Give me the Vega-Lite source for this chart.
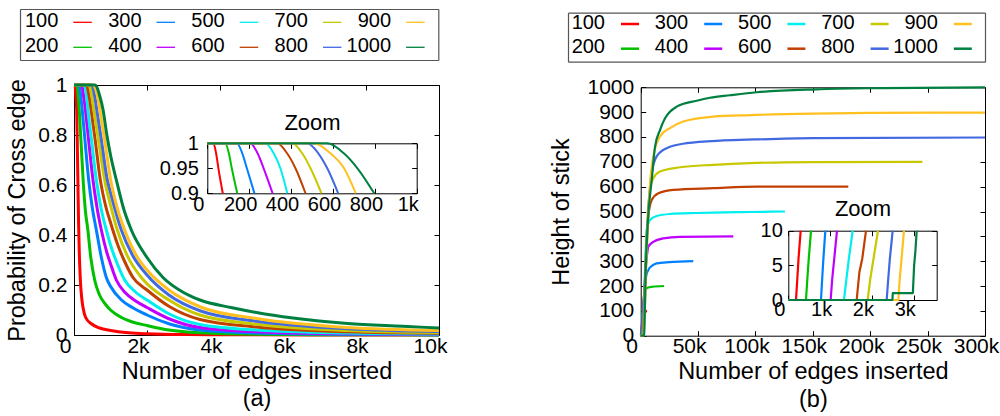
{
  "$schema": "https://vega.github.io/schema/vega-lite/v6.json",
  "width": 1000,
  "height": 416,
  "autosize": {"type": "none"},
  "padding": 0,
  "background": "white",
  "config": {
    "view": {"stroke": null},
    "font": "Liberation Sans",
    "axis": {
      "grid": false,
      "domainColor": "black",
      "domainWidth": 1,
      "tickColor": "black",
      "tickWidth": 1,
      "tickSize": -5,
      "labelColor": "black",
      "labelFont": "Liberation Sans",
      "labelFontSize": 21,
      "labelFlush": false,
      "labelOverlap": false,
      "labelBound": false,
      "titleColor": "black",
      "titleFont": "Liberation Sans",
      "titleFontSize": 23.5,
      "titleFontWeight": "normal"
    },
    "line": {"interpolate": "monotone", "strokeJoin": "round"}
  },
  "datasets": {
    "crossEdge": [
      {"s":100,"x":0,"p":1},{"s":100,"x":29,"p":1},{"s":100,"x":53,"p":0.95},{"s":100,"x":74,"p":0.9},{"s":100,"x":92,"p":0.75},{"s":100,"x":108,"p":0.6},{"s":100,"x":125,"p":0.45},{"s":100,"x":145,"p":0.33},{"s":100,"x":174,"p":0.22},{"s":100,"x":210,"p":0.15},{"s":100,"x":247,"p":0.11},{"s":100,"x":320,"p":0.07},{"s":100,"x":475,"p":0.045},{"s":100,"x":700,"p":0.028},{"s":100,"x":1000,"p":0.018},{"s":100,"x":1500,"p":0.009},{"s":100,"x":2000,"p":0.005},{"s":100,"x":3000,"p":0.002},{"s":100,"x":5000,"p":0.001},{"s":100,"x":7500,"p":0},{"s":100,"x":10000,"p":0},
      {"s":200,"x":0,"p":1},{"s":200,"x":85,"p":1},{"s":200,"x":117,"p":0.95},{"s":200,"x":143,"p":0.9},{"s":200,"x":190,"p":0.78},{"s":200,"x":250,"p":0.62},{"s":200,"x":310,"p":0.5},{"s":200,"x":380,"p":0.42},{"s":200,"x":460,"p":0.31},{"s":200,"x":566,"p":0.22},{"s":200,"x":700,"p":0.16},{"s":200,"x":850,"p":0.125},{"s":200,"x":1000,"p":0.1},{"s":200,"x":1300,"p":0.07},{"s":200,"x":1600,"p":0.052},{"s":200,"x":2000,"p":0.038},{"s":200,"x":2600,"p":0.02},{"s":200,"x":3450,"p":0.009},{"s":200,"x":5000,"p":0.003},{"s":200,"x":7500,"p":0.001},{"s":200,"x":10000,"p":0.0005},
      {"s":300,"x":0,"p":1},{"s":300,"x":141,"p":1},{"s":300,"x":189,"p":0.95},{"s":300,"x":225,"p":0.9},{"s":300,"x":300,"p":0.78},{"s":300,"x":402,"p":0.62},{"s":300,"x":500,"p":0.51},{"s":300,"x":612,"p":0.42},{"s":300,"x":750,"p":0.31},{"s":300,"x":886,"p":0.23},{"s":300,"x":1000,"p":0.195},{"s":300,"x":1300,"p":0.14},{"s":300,"x":1600,"p":0.11},{"s":300,"x":2000,"p":0.08},{"s":300,"x":2600,"p":0.045},{"s":300,"x":3450,"p":0.02},{"s":300,"x":5000,"p":0.008},{"s":300,"x":7500,"p":0.003},{"s":300,"x":10000,"p":0.0015},
      {"s":400,"x":0,"p":1},{"s":400,"x":205,"p":1},{"s":400,"x":269,"p":0.95},{"s":400,"x":312,"p":0.9},{"s":400,"x":400,"p":0.78},{"s":400,"x":520,"p":0.62},{"s":400,"x":630,"p":0.51},{"s":400,"x":749,"p":0.42},{"s":400,"x":900,"p":0.33},{"s":400,"x":1000,"p":0.285},{"s":400,"x":1160,"p":0.22},{"s":400,"x":1400,"p":0.17},{"s":400,"x":1700,"p":0.135},{"s":400,"x":2000,"p":0.11},{"s":400,"x":2600,"p":0.065},{"s":400,"x":3450,"p":0.03},{"s":400,"x":5000,"p":0.013},{"s":400,"x":7500,"p":0.005},{"s":400,"x":10000,"p":0.003},
      {"s":500,"x":0,"p":1},{"s":500,"x":277,"p":1},{"s":500,"x":349,"p":0.95},{"s":500,"x":382,"p":0.9},{"s":500,"x":480,"p":0.78},{"s":500,"x":612,"p":0.62},{"s":500,"x":750,"p":0.5},{"s":500,"x":886,"p":0.42},{"s":500,"x":1000,"p":0.36},{"s":500,"x":1200,"p":0.28},{"s":500,"x":1388,"p":0.22},{"s":500,"x":1700,"p":0.17},{"s":500,"x":2000,"p":0.14},{"s":500,"x":2600,"p":0.085},{"s":500,"x":3450,"p":0.042},{"s":500,"x":5000,"p":0.02},{"s":500,"x":7500,"p":0.008},{"s":500,"x":10000,"p":0.004},
      {"s":600,"x":0,"p":1},{"s":600,"x":333,"p":1},{"s":600,"x":421,"p":0.95},{"s":600,"x":469,"p":0.9},{"s":600,"x":580,"p":0.78},{"s":600,"x":721,"p":0.62},{"s":600,"x":860,"p":0.52},{"s":600,"x":1000,"p":0.45},{"s":600,"x":1200,"p":0.36},{"s":600,"x":1400,"p":0.29},{"s":600,"x":1616,"p":0.23},{"s":600,"x":2000,"p":0.18},{"s":600,"x":2600,"p":0.115},{"s":600,"x":3450,"p":0.062},{"s":600,"x":5000,"p":0.032},{"s":600,"x":7500,"p":0.013},{"s":600,"x":10000,"p":0.007},
      {"s":700,"x":0,"p":1},{"s":700,"x":405,"p":1},{"s":700,"x":493,"p":0.95},{"s":700,"x":545,"p":0.9},{"s":700,"x":670,"p":0.78},{"s":700,"x":840,"p":0.62},{"s":700,"x":1000,"p":0.52},{"s":700,"x":1187,"p":0.42},{"s":700,"x":1450,"p":0.32},{"s":700,"x":1845,"p":0.23},{"s":700,"x":2000,"p":0.205},{"s":700,"x":2600,"p":0.14},{"s":700,"x":3450,"p":0.08},{"s":700,"x":5000,"p":0.043},{"s":700,"x":7500,"p":0.018},{"s":700,"x":10000,"p":0.01},
      {"s":800,"x":0,"p":1},{"s":800,"x":477,"p":1},{"s":800,"x":573,"p":0.95},{"s":800,"x":625,"p":0.9},{"s":800,"x":750,"p":0.78},{"s":800,"x":913,"p":0.62},{"s":800,"x":1000,"p":0.57},{"s":800,"x":1297,"p":0.42},{"s":800,"x":1600,"p":0.32},{"s":800,"x":2000,"p":0.24},{"s":800,"x":2600,"p":0.16},{"s":800,"x":3450,"p":0.097},{"s":800,"x":5000,"p":0.055},{"s":800,"x":7500,"p":0.025},{"s":800,"x":10000,"p":0.014},
      {"s":900,"x":0,"p":1},{"s":900,"x":509,"p":1},{"s":900,"x":653,"p":0.95},{"s":900,"x":709,"p":0.9},{"s":900,"x":840,"p":0.78},{"s":900,"x":1005,"p":0.62},{"s":900,"x":1200,"p":0.5},{"s":900,"x":1388,"p":0.42},{"s":900,"x":1700,"p":0.32},{"s":900,"x":2000,"p":0.26},{"s":900,"x":2600,"p":0.18},{"s":900,"x":3450,"p":0.113},{"s":900,"x":5000,"p":0.066},{"s":900,"x":7500,"p":0.03},{"s":900,"x":10000,"p":0.018},
      {"s":1000,"x":0,"p":1},{"s":1000,"x":573,"p":1},{"s":1000,"x":717,"p":0.95},{"s":1000,"x":797,"p":0.9},{"s":1000,"x":900,"p":0.8},{"s":1000,"x":1000,"p":0.72},{"s":1000,"x":1160,"p":0.62},{"s":1000,"x":1350,"p":0.51},{"s":1000,"x":1571,"p":0.42},{"s":1000,"x":2000,"p":0.31},{"s":1000,"x":2438,"p":0.23},{"s":1000,"x":3000,"p":0.17},{"s":1000,"x":3450,"p":0.14},{"s":1000,"x":4300,"p":0.11},{"s":1000,"x":5000,"p":0.09},{"s":1000,"x":6000,"p":0.068},{"s":1000,"x":7500,"p":0.046},{"s":1000,"x":9000,"p":0.035},{"s":1000,"x":10000,"p":0.028}
    ],
    "crossEdgeZoom": [
      {"s":100,"x":0,"p":1},{"s":100,"x":29,"p":1},{"s":100,"x":42,"p":0.98},{"s":100,"x":53,"p":0.95},{"s":100,"x":74,"p":0.9},
      {"s":200,"x":0,"p":1},{"s":200,"x":85,"p":1},{"s":200,"x":103,"p":0.98},{"s":200,"x":117,"p":0.95},{"s":200,"x":143,"p":0.9},
      {"s":300,"x":0,"p":1},{"s":300,"x":141,"p":1},{"s":300,"x":167,"p":0.98},{"s":300,"x":189,"p":0.95},{"s":300,"x":225,"p":0.9},
      {"s":400,"x":0,"p":1},{"s":400,"x":205,"p":1},{"s":400,"x":240,"p":0.98},{"s":400,"x":269,"p":0.95},{"s":400,"x":312,"p":0.9},
      {"s":500,"x":0,"p":1},{"s":500,"x":277,"p":1},{"s":500,"x":317,"p":0.98},{"s":500,"x":349,"p":0.95},{"s":500,"x":382,"p":0.9},
      {"s":600,"x":0,"p":1},{"s":600,"x":333,"p":1},{"s":600,"x":381,"p":0.98},{"s":600,"x":421,"p":0.95},{"s":600,"x":469,"p":0.9},
      {"s":700,"x":0,"p":1},{"s":700,"x":405,"p":1},{"s":700,"x":453,"p":0.98},{"s":700,"x":493,"p":0.95},{"s":700,"x":545,"p":0.9},
      {"s":800,"x":0,"p":1},{"s":800,"x":477,"p":1},{"s":800,"x":530,"p":0.98},{"s":800,"x":573,"p":0.95},{"s":800,"x":625,"p":0.9},
      {"s":900,"x":0,"p":1},{"s":900,"x":509,"p":1},{"s":900,"x":588,"p":0.98},{"s":900,"x":653,"p":0.95},{"s":900,"x":709,"p":0.9},
      {"s":1000,"x":0,"p":1},{"s":1000,"x":573,"p":1},{"s":1000,"x":652,"p":0.98},{"s":1000,"x":717,"p":0.95},{"s":1000,"x":797,"p":0.9}
    ],
    "stickHeight": [
      {"s":100,"x":0,"h":0},{"s":100,"x":184,"h":0},{"s":100,"x":296,"h":10},{"s":100,"x":800,"h":35},{"s":100,"x":1800,"h":65},{"s":100,"x":3000,"h":85},{"s":100,"x":4500,"h":98},{"s":100,"x":5500,"h":100},
      {"s":200,"x":0,"h":0},{"s":200,"x":423,"h":0},{"s":200,"x":543,"h":10},{"s":200,"x":1500,"h":80},{"s":200,"x":2600,"h":145},{"s":200,"x":3750,"h":184},{"s":200,"x":6000,"h":193},{"s":200,"x":10000,"h":197},{"s":200,"x":20300,"h":200},
      {"s":300,"x":0,"h":0},{"s":300,"x":782,"h":0},{"s":300,"x":886,"h":10},{"s":300,"x":2000,"h":105},{"s":300,"x":3500,"h":195},{"s":300,"x":5000,"h":245},{"s":300,"x":6600,"h":264},{"s":300,"x":10000,"h":282},{"s":300,"x":13900,"h":291},{"s":300,"x":25000,"h":296},{"s":300,"x":45800,"h":300},
      {"s":400,"x":0,"h":0},{"s":400,"x":1013,"h":0},{"s":400,"x":1165,"h":10},{"s":400,"x":2500,"h":120},{"s":400,"x":4000,"h":250},{"s":400,"x":5500,"h":325},{"s":400,"x":6600,"h":358},{"s":400,"x":11000,"h":378},{"s":400,"x":19700,"h":392},{"s":400,"x":34200,"h":398},{"s":400,"x":80700,"h":400},
      {"s":500,"x":0,"h":0},{"s":500,"x":1332,"h":0},{"s":500,"x":1540,"h":10},{"s":500,"x":3000,"h":150},{"s":500,"x":4200,"h":330},{"s":500,"x":5200,"h":425},{"s":500,"x":8100,"h":466},{"s":500,"x":13900,"h":482},{"s":500,"x":25500,"h":490},{"s":500,"x":48800,"h":494},{"s":500,"x":95000,"h":498},{"s":500,"x":125700,"h":500},
      {"s":600,"x":0,"h":0},{"s":600,"x":1636,"h":0},{"s":600,"x":1859,"h":10},{"s":600,"x":3500,"h":190},{"s":600,"x":5000,"h":380},{"s":600,"x":6600,"h":479},{"s":600,"x":9600,"h":546},{"s":600,"x":15400,"h":573},{"s":600,"x":28400,"h":587},{"s":600,"x":63300,"h":594},{"s":600,"x":101000,"h":600},{"s":600,"x":180900,"h":600},
      {"s":700,"x":0,"h":0},{"s":700,"x":1899,"h":0},{"s":700,"x":2146,"h":10},{"s":700,"x":4000,"h":230},{"s":700,"x":6000,"h":480},{"s":700,"x":8100,"h":587},{"s":700,"x":11000,"h":634},{"s":700,"x":16800,"h":661},{"s":700,"x":34200,"h":678},{"s":700,"x":63300,"h":688},{"s":700,"x":95200,"h":695},{"s":700,"x":150000,"h":699},{"s":700,"x":245400,"h":700},
      {"s":800,"x":0,"h":0},{"s":800,"x":2353,"h":0},{"s":800,"x":2497,"h":10},{"s":800,"x":4500,"h":270},{"s":800,"x":7000,"h":530},{"s":800,"x":9600,"h":654},{"s":800,"x":13900,"h":722},{"s":800,"x":22600,"h":755},{"s":800,"x":40000,"h":775},{"s":800,"x":72000,"h":786},{"s":800,"x":100000,"h":790},{"s":800,"x":150000,"h":795},{"s":800,"x":300000,"h":798},
      {"s":900,"x":0,"h":0},{"s":900,"x":2632,"h":0},{"s":900,"x":2767,"h":10},{"s":900,"x":5000,"h":300},{"s":900,"x":8000,"h":600},{"s":900,"x":11000,"h":722},{"s":900,"x":16800,"h":802},{"s":900,"x":25500,"h":836},{"s":900,"x":37100,"h":862},{"s":900,"x":63300,"h":882},{"s":900,"x":95200,"h":888},{"s":900,"x":150000,"h":894},{"s":900,"x":200000,"h":897},{"s":900,"x":300000,"h":898},
      {"s":1000,"x":0,"h":0},{"s":1000,"x":2490,"h":0},{"s":1000,"x":2500,"h":1},{"s":1000,"x":2980,"h":1},{"s":1000,"x":3071,"h":10},{"s":1000,"x":4500,"h":280},{"s":1000,"x":6700,"h":490},{"s":1000,"x":9600,"h":627},{"s":1000,"x":12500,"h":761},{"s":1000,"x":16800,"h":828},{"s":1000,"x":21200,"h":875},{"s":1000,"x":31400,"h":922},{"s":1000,"x":48800,"h":946},{"s":1000,"x":60400,"h":958},{"s":1000,"x":77800,"h":968},{"s":1000,"x":101000,"h":980},{"s":1000,"x":153000,"h":992},{"s":1000,"x":211000,"h":997},{"s":1000,"x":300000,"h":1000}
    ],
    "stickHeightZoom": [
      {"s":100,"x":0,"h":0},{"s":100,"x":184,"h":0},{"s":100,"x":215,"h":3},{"s":100,"x":245,"h":6},{"s":100,"x":296,"h":10},
      {"s":200,"x":0,"h":0},{"s":200,"x":423,"h":0},{"s":200,"x":455,"h":3},{"s":200,"x":490,"h":6},{"s":200,"x":543,"h":10},
      {"s":300,"x":0,"h":0},{"s":300,"x":782,"h":0},{"s":300,"x":810,"h":3},{"s":300,"x":840,"h":6},{"s":300,"x":886,"h":10},
      {"s":400,"x":0,"h":0},{"s":400,"x":1013,"h":0},{"s":400,"x":1050,"h":3},{"s":400,"x":1100,"h":6},{"s":400,"x":1165,"h":10},
      {"s":500,"x":0,"h":0},{"s":500,"x":1332,"h":0},{"s":500,"x":1390,"h":3},{"s":500,"x":1450,"h":6},{"s":500,"x":1540,"h":10},
      {"s":600,"x":0,"h":0},{"s":600,"x":1636,"h":0},{"s":600,"x":1700,"h":4},{"s":600,"x":1770,"h":6},{"s":600,"x":1859,"h":10},
      {"s":700,"x":0,"h":0},{"s":700,"x":1899,"h":0},{"s":700,"x":1960,"h":3},{"s":700,"x":2040,"h":6},{"s":700,"x":2146,"h":10},
      {"s":800,"x":0,"h":0},{"s":800,"x":2353,"h":0},{"s":800,"x":2390,"h":3},{"s":800,"x":2430,"h":6},{"s":800,"x":2497,"h":10},
      {"s":900,"x":0,"h":0},{"s":900,"x":2632,"h":0},{"s":900,"x":2665,"h":3},{"s":900,"x":2710,"h":6},{"s":900,"x":2767,"h":10},
      {"s":1000,"x":0,"h":0},{"s":1000,"x":2490,"h":0},{"s":1000,"x":2500,"h":1},{"s":1000,"x":2980,"h":1},{"s":1000,"x":3010,"h":5},{"s":1000,"x":3040,"h":7},{"s":1000,"x":3071,"h":10}
    ],
    "keys": [{"s":100},{"s":200},{"s":300},{"s":400},{"s":500},{"s":600},{"s":700},{"s":800},{"s":900},{"s":1000}]
  },
  "resolve": {"scale": {"x": "independent", "y": "independent"}},
  "layer": [
    {
      "data": {"name": "crossEdge"},
      "encoding": {"color": {"field": "s", "type": "nominal", "legend": null, "scale": {"domain": [100,200,300,400,500,600,700,800,900,1000], "range": ["#ff0000","#00c000","#0080ff","#c000ff","#00eeee","#c04000","#c8c800","#4169e1","#ffc020","#008040"]}}},
      "resolve": {"axis": {"x": "independent", "y": "independent"}},
      "layer": [
        {
          "transform": [{"filter": "datum.s <= 500"}],
          "mark": {"type": "line", "strokeWidth": 3},
          "encoding": {
            "x": {"field": "x", "type": "quantitative", "scale": {"domain": [0, 10000], "range": [74, 439], "nice": false, "zero": false},
                  "axis": {"orient": "bottom", "offset": -81, "values": [0,2000,4000,6000,8000,10000], "labelExpr": "datum.value == 0 ? '0' : datum.value / 1000 + 'k'", "labelPadding": 5, "labelOffset": -9, "title": ["Number of edges inserted", "(a)"], "titlePadding": 3, "titleLineHeight": 27.5}},
            "y": {"field": "p", "type": "quantitative", "scale": {"domain": [0, 1], "range": [335, 85], "nice": false, "zero": false},
                  "axis": {"orient": "left", "offset": -74, "values": [0,0.2,0.4,0.6,0.8,1], "format": "~g", "labelPadding": 12, "title": "Probability of Cross edge", "titlePadding": 8}}
          }
        },
        {
          "transform": [{"filter": "datum.s > 500"}],
          "mark": {"type": "line", "strokeWidth": 3},
          "encoding": {
            "x": {"field": "x", "type": "quantitative", "scale": {"domain": [0, 10000], "range": [74, 439], "nice": false, "zero": false},
                  "axis": {"orient": "top", "offset": -85, "values": [0,2000,4000,6000,8000,10000], "labels": false, "title": null}},
            "y": {"field": "p", "type": "quantitative", "scale": {"domain": [0, 1], "range": [335, 85], "nice": false, "zero": false},
                  "axis": {"orient": "right", "offset": -561, "values": [0,0.2,0.4,0.6,0.8,1], "labels": false, "title": null}}
          }
        }
      ]
    },
    {
      "data": {"name": "crossEdgeZoom"},
      "encoding": {"color": {"field": "s", "type": "nominal", "legend": null, "scale": {"domain": [100,200,300,400,500,600,700,800,900,1000], "range": ["#ff0000","#00c000","#0080ff","#c000ff","#00eeee","#c04000","#c8c800","#4169e1","#ffc020","#008040"]}}},
      "resolve": {"axis": {"x": "independent", "y": "independent"}},
      "layer": [
        {
          "transform": [{"filter": "datum.s <= 500"}],
          "mark": {"type": "line", "strokeWidth": 2},
          "encoding": {
            "x": {"field": "x", "type": "quantitative", "scale": {"domain": [0, 1000], "range": [207.3, 416.7], "nice": false, "zero": false},
                  "axis": {"orient": "bottom", "offset": -222.7, "values": [0,200,400,600,800,1000], "labelExpr": "datum.value >= 1000 ? datum.value / 1000 + 'k' : '' + datum.value", "labelFontSize": 20, "labelPadding": 6, "labelOffset": -9, "title": null}},
            "y": {"field": "p", "type": "quantitative", "scale": {"domain": [0.9, 1], "range": [193.3, 143.3], "nice": false, "zero": false},
                  "axis": {"orient": "left", "offset": -207.3, "values": [0.9,0.95,1], "format": "~g", "labelFontSize": 20, "labelPadding": 14, "title": null}}
          }
        },
        {
          "transform": [{"filter": "datum.s > 500"}],
          "mark": {"type": "line", "strokeWidth": 2},
          "encoding": {
            "x": {"field": "x", "type": "quantitative", "scale": {"domain": [0, 1000], "range": [207.3, 416.7], "nice": false, "zero": false},
                  "axis": {"orient": "top", "offset": -143.3, "values": [0,200,400,600,800,1000], "labels": false, "title": "Zoom", "titleFontSize": 22, "titlePadding": 8.7}},
            "y": {"field": "p", "type": "quantitative", "scale": {"domain": [0.9, 1], "range": [193.3, 143.3], "nice": false, "zero": false},
                  "axis": {"orient": "right", "offset": -583.3, "values": [0.9,0.95,1], "labels": false, "title": null}}
          }
        }
      ]
    },
    {
      "data": {"name": "keys"},
      "transform": [
        {"calculate": "floor((datum.s - 100) / 200)", "as": "col"},
        {"calculate": "(datum.s / 100 + 1) % 2", "as": "row"}
      ],
      "resolve": {"axis": {"x": "independent", "y": "independent"}},
      "layer": [
        {
          "mark": {"type": "text", "align": "right", "baseline": "middle", "fontSize": 20, "color": "black"},
          "encoding": {
            "x": {"field": "col", "type": "quantitative", "scale": {"domain": [-0.4603, 4.567], "range": [20, 438.3], "nice": false, "zero": false},
                  "axis": {"orient": "bottom", "offset": -356, "ticks": false, "labels": false, "title": null, "domainColor": "#555555", "domainWidth": 1.2}},
            "y": {"field": "row", "type": "quantitative", "scale": {"domain": [-0.472, 1.568], "range": [9, 60], "nice": false, "zero": false},
                  "axis": {"orient": "left", "offset": -20, "ticks": false, "labels": false, "title": null, "domainColor": "#555555", "domainWidth": 1.2}},
            "text": {"field": "s", "type": "nominal"}
          }
        },
        {
          "mark": {"type": "rule", "xOffset": 15, "x2Offset": 33.5, "yOffset": 1.5, "strokeWidth": 1.3},
          "encoding": {
            "x": {"field": "col", "type": "quantitative", "scale": {"domain": [-0.4603, 4.567], "range": [20, 438.3], "nice": false, "zero": false},
                  "axis": {"orient": "top", "offset": -9, "ticks": false, "labels": false, "title": null, "domainColor": "#555555", "domainWidth": 1.2}},
            "x2": {"field": "col"},
            "y": {"field": "row", "type": "quantitative", "scale": {"domain": [-0.472, 1.568], "range": [9, 60], "nice": false, "zero": false},
                  "axis": {"orient": "right", "offset": -561.7, "ticks": false, "labels": false, "title": null, "domainColor": "#555555", "domainWidth": 1.2}},
            "color": {"field": "s", "type": "nominal", "legend": null, "scale": {"domain": [100,200,300,400,500,600,700,800,900,1000], "range": ["#ff0000","#00c000","#0080ff","#c000ff","#00eeee","#c04000","#c8c800","#4169e1","#ffc020","#008040"]}}
          }
        }
      ]
    },
    {
      "data": {"name": "stickHeight"},
      "encoding": {"color": {"field": "s", "type": "nominal", "legend": null, "scale": {"domain": [100,200,300,400,500,600,700,800,900,1000], "range": ["#ff0000","#00c000","#0080ff","#c000ff","#00eeee","#c04000","#c8c800","#4169e1","#ffc020","#008040"]}}},
      "resolve": {"axis": {"x": "independent", "y": "independent"}},
      "layer": [
        {
          "transform": [{"filter": "datum.s <= 500"}],
          "mark": {"type": "line", "strokeWidth": 2.2},
          "encoding": {
            "x": {"field": "x", "type": "quantitative", "scale": {"domain": [0, 300000], "range": [640.7, 985], "nice": false, "zero": false},
                  "axis": {"orient": "bottom", "offset": -80.3, "values": [0,50000,100000,150000,200000,250000,300000], "labelExpr": "datum.value == 0 ? '0' : datum.value / 1000 + 'k'", "labelPadding": 5, "labelOffset": -9, "title": ["Number of edges inserted", "(b)"], "titlePadding": 3, "titleLineHeight": 27.5}},
            "y": {"field": "h", "type": "quantitative", "scale": {"domain": [0, 1000], "range": [335.7, 87.3], "nice": false, "zero": false},
                  "axis": {"orient": "left", "offset": -640.7, "values": [0,100,200,300,400,500,600,700,800,900,1000], "format": "d", "labelPadding": 12, "title": "Height of stick", "titlePadding": 13}}
          }
        },
        {
          "transform": [{"filter": "datum.s > 500"}],
          "mark": {"type": "line", "strokeWidth": 2.2},
          "encoding": {
            "x": {"field": "x", "type": "quantitative", "scale": {"domain": [0, 300000], "range": [640.7, 985], "nice": false, "zero": false},
                  "axis": {"orient": "top", "offset": -87.3, "values": [0,50000,100000,150000,200000,250000,300000], "labels": false, "title": null}},
            "y": {"field": "h", "type": "quantitative", "scale": {"domain": [0, 1000], "range": [335.7, 87.3], "nice": false, "zero": false},
                  "axis": {"orient": "right", "offset": -15, "values": [0,100,200,300,400,500,600,700,800,900,1000], "labels": false, "title": null}}
          }
        }
      ]
    },
    {
      "data": {"name": "stickHeightZoom"},
      "encoding": {"color": {"field": "s", "type": "nominal", "legend": null, "scale": {"domain": [100,200,300,400,500,600,700,800,900,1000], "range": ["#ff0000","#00c000","#0080ff","#c000ff","#00eeee","#c04000","#c8c800","#4169e1","#ffc020","#008040"]}}},
      "resolve": {"axis": {"x": "independent", "y": "independent"}},
      "layer": [
        {
          "transform": [{"filter": "datum.s <= 500"}],
          "mark": {"type": "line", "strokeWidth": 2.2, "interpolate": "linear"},
          "encoding": {
            "x": {"field": "x", "type": "quantitative", "scale": {"domain": [0, 3550], "range": [788.3, 936.7], "nice": false, "zero": false},
                  "axis": {"orient": "bottom", "offset": -116, "values": [0,1000,2000,3000], "labelExpr": "datum.value == 0 ? '0' : datum.value / 1000 + 'k'", "labelFontSize": 20, "labelPadding": 4, "labelOffset": -9, "title": null}},
            "y": {"field": "h", "type": "quantitative", "scale": {"domain": [0, 10], "range": [300, 230.7], "nice": false, "zero": false},
                  "axis": {"orient": "left", "offset": -788.3, "values": [0,5,10], "format": "d", "labelFontSize": 20, "labelPadding": 11, "title": null}}
          }
        },
        {
          "transform": [{"filter": "datum.s > 500"}],
          "mark": {"type": "line", "strokeWidth": 2.2, "interpolate": "linear"},
          "encoding": {
            "x": {"field": "x", "type": "quantitative", "scale": {"domain": [0, 3550], "range": [788.3, 936.7], "nice": false, "zero": false},
                  "axis": {"orient": "top", "offset": -230.7, "values": [0,1000,2000,3000], "labels": false, "title": "Zoom", "titleFontSize": 22, "titlePadding": 10}},
            "y": {"field": "h", "type": "quantitative", "scale": {"domain": [0, 10], "range": [300, 230.7], "nice": false, "zero": false},
                  "axis": {"orient": "right", "offset": -63.3, "values": [0,5,10], "labels": false, "title": null}}
          }
        }
      ]
    },
    {
      "data": {"name": "keys"},
      "transform": [
        {"calculate": "floor((datum.s - 100) / 200)", "as": "col"},
        {"calculate": "(datum.s / 100 + 1) % 2", "as": "row"}
      ],
      "resolve": {"axis": {"x": "independent", "y": "independent"}},
      "layer": [
        {
          "mark": {"type": "text", "align": "right", "baseline": "middle", "fontSize": 20, "color": "black"},
          "encoding": {
            "x": {"field": "col", "type": "quantitative", "scale": {"domain": [-0.4447, 4.567], "range": [568, 985], "nice": false, "zero": false},
                  "axis": {"orient": "bottom", "offset": -354.3, "ticks": false, "labels": false, "title": null, "domainColor": "#555555", "domainWidth": 1.2}},
            "y": {"field": "row", "type": "quantitative", "scale": {"domain": [-0.397, 1.587], "range": [12.7, 61.7], "nice": false, "zero": false},
                  "axis": {"orient": "left", "offset": -568, "ticks": false, "labels": false, "title": null, "domainColor": "#555555", "domainWidth": 1.2}},
            "text": {"field": "s", "type": "nominal"}
          }
        },
        {
          "mark": {"type": "rule", "xOffset": 16, "x2Offset": 34, "yOffset": 1.5, "strokeWidth": 2.5},
          "encoding": {
            "x": {"field": "col", "type": "quantitative", "scale": {"domain": [-0.4447, 4.567], "range": [568, 985], "nice": false, "zero": false},
                  "axis": {"orient": "top", "offset": -12.7, "ticks": false, "labels": false, "title": null, "domainColor": "#555555", "domainWidth": 1.2}},
            "x2": {"field": "col"},
            "y": {"field": "row", "type": "quantitative", "scale": {"domain": [-0.397, 1.587], "range": [12.7, 61.7], "nice": false, "zero": false},
                  "axis": {"orient": "right", "offset": -15, "ticks": false, "labels": false, "title": null, "domainColor": "#555555", "domainWidth": 1.2}},
            "color": {"field": "s", "type": "nominal", "legend": null, "scale": {"domain": [100,200,300,400,500,600,700,800,900,1000], "range": ["#ff0000","#00c000","#0080ff","#c000ff","#00eeee","#c04000","#c8c800","#4169e1","#ffc020","#008040"]}}
          }
        }
      ]
    }
  ]
}
